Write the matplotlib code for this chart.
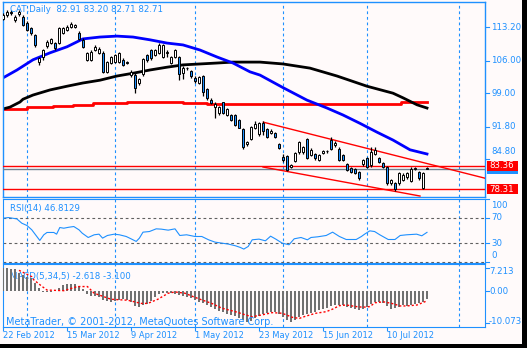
import matplotlib
matplotlib.use('Agg')
import matplotlib.pyplot as plt
from matplotlib.patches import Rectangle

W, H = 527, 348
BG = '#FFFAFA'
FG = '#1E90FF'
BULL = '#FFFFFF'
BEAR = '#1E90FF'

# ---------------- data ----------------
date_labels = ['22 Feb 2012', '15 Mar 2012', '9 Apr 2012', '1 May 2012',
               '23 May 2012', '15 Jun 2012', '10 Jul 2012']
date_index = [0, 16, 32, 48, 64, 80, 96]
grid_index = [6, 28, 48, 70, 91, 114]

opens = [115.0, 115.8, 116.6, 114.7, 116.0, 115.4, 114.2, 113.0, 111.5, 105.7,
         106.8, 109.2, 109.8, 109.8, 109.8, 112.0, 112.6, 113.3, 113.3, 112.0,
         110.5, 106.2, 106.2, 108.3, 107.7, 107.7, 103.6, 105.5, 105.7, 105.7,
         106.2, 105.8, 102.9, 102.9, 101.2, 103.1, 107.2, 108.2, 107.2, 107.7,
         106.9, 107.7, 105.5, 106.8, 106.8, 103.4, 104.4, 103.8, 102.3, 101.2,
         102.6, 99.8, 97.6, 96.1, 94.7, 97.0, 94.4, 94.3, 94.4, 93.2,
         91.2, 88.0, 89.2, 91.5, 90.1, 92.6, 91.3, 90.4, 90.4, 88.0,
         85.2, 85.5, 83.1, 84.4, 86.3, 86.3, 89.1, 85.7, 85.9, 84.6,
         86.1, 86.5, 88.9, 87.8, 87.0, 85.7, 83.7, 82.9, 82.6, 82.0,
         83.7, 85.0, 83.5, 85.9, 85.0, 83.9, 83.1, 79.6, 79.6, 79.6,
         80.3, 80.9, 80.1, 82.7, 82.0, 78.6, 82.91]
highs = [116.2, 117.0, 117.0, 115.8, 116.9, 115.8, 114.5, 113.3, 111.7, 106.9,
         108.6, 110.4, 111.0, 110.0, 113.3, 113.3, 113.6, 114.3, 114.0, 112.3,
         110.8, 107.9, 108.2, 109.4, 108.9, 108.0, 106.0, 107.1, 107.5, 107.9,
         106.6, 106.0, 104.0, 103.3, 102.3, 106.5, 107.5, 108.5, 108.6, 109.8,
         109.7, 108.2, 107.0, 108.6, 107.1, 104.9, 104.7, 104.1, 102.6, 102.8,
         103.0, 100.1, 97.9, 97.0, 96.3, 97.2, 95.8, 94.6, 94.6, 93.5,
         91.4, 88.8, 92.0, 92.9, 92.8, 92.9, 91.6, 91.2, 90.7, 88.3,
         85.8, 85.7, 83.8, 86.4, 88.8, 87.7, 89.3, 87.1, 86.2, 86.0,
         86.8, 86.8, 89.5, 88.6, 87.3, 86.0, 84.0, 83.2, 82.9, 82.3,
         84.9, 85.3, 87.4, 87.4, 85.3, 84.2, 83.4, 80.6, 79.9, 82.1,
         81.7, 82.1, 83.0, 83.0, 82.3, 82.1, 83.20]
lows = [114.7, 115.5, 115.9, 114.4, 115.7, 113.5, 112.4, 111.6, 109.0, 105.1,
        106.2, 108.7, 109.5, 108.4, 109.5, 111.8, 112.3, 113.0, 113.1, 110.5,
        108.8, 105.9, 106.0, 108.0, 107.4, 103.3, 103.3, 105.2, 105.4, 105.4,
        104.8, 105.2, 102.4, 99.0, 100.8, 102.7, 105.8, 106.2, 107.0, 107.4,
        106.6, 106.8, 105.2, 106.5, 101.8, 102.0, 103.9, 102.3, 101.3, 100.9,
        98.4, 97.6, 96.6, 93.6, 94.4, 94.5, 94.1, 93.0, 92.0, 91.4,
        87.0, 87.6, 88.9, 91.2, 89.8, 90.0, 89.3, 90.1, 89.3, 86.9,
        84.2, 82.2, 82.8, 84.1, 86.0, 86.0, 84.8, 85.4, 84.7, 84.3,
        85.8, 86.2, 86.7, 87.5, 84.3, 84.3, 82.2, 81.7, 81.5, 80.4,
        83.4, 82.8, 83.2, 85.6, 83.9, 82.8, 79.3, 79.3, 77.9, 79.3,
        80.0, 80.6, 79.8, 82.4, 80.4, 78.3, 82.71]
closes = [115.8, 116.6, 116.2, 115.5, 116.6, 113.7, 112.6, 112.0, 109.4, 106.6,
          108.3, 110.0, 110.7, 108.7, 113.0, 113.0, 113.3, 113.9, 113.7, 110.7,
          109.0, 107.6, 107.9, 109.0, 108.5, 103.6, 105.7, 106.8, 107.2, 107.6,
          105.1, 105.6, 103.6, 100.1, 102.0, 106.3, 106.2, 106.5, 108.3, 109.4,
          109.4, 107.7, 106.8, 108.3, 103.1, 104.4, 104.4, 102.6, 101.6, 102.5,
          99.2, 97.9, 96.9, 96.7, 96.0, 94.8, 95.5, 93.3, 92.2, 91.6,
          87.4, 88.5, 91.7, 92.3, 92.5, 90.8, 89.6, 90.9, 89.6, 87.2,
          84.6, 82.5, 83.5, 86.1, 88.5, 87.4, 85.0, 86.8, 85.0, 85.7,
          86.5, 86.5, 87.0, 88.3, 84.6, 84.6, 82.5, 82.0, 81.8, 80.7,
          84.6, 83.1, 86.3, 86.8, 84.2, 83.1, 79.6, 80.3, 78.3, 81.8,
          81.4, 81.8, 82.7, 82.7, 80.7, 81.8, 82.71]

# moving averages (read at sample bars)
ma_blue_idx = [0, 3.5, 7.5, 11.75, 16, 20, 24.25, 28.5, 32.5, 36.75, 41, 45, 49.25,
               53.5, 57.5, 61.75, 64.25, 70, 76, 81, 85, 89.25, 93.5, 97.5, 101.75, 106]
ma_blue_val = [102.3, 104.0, 106.2, 107.7, 109.0, 110.7, 111.1, 111.3, 111.1, 110.5,
               109.8, 109.4, 108.3, 106.8, 105.5, 103.6, 102.9, 100.2, 97.5, 95.8,
               94.3, 92.5, 90.6, 88.9, 86.8, 85.9]
ma_black_idx = [0, 1.75, 4.25, 5, 7.5, 11.75, 16, 20, 24.25, 28.5, 32.5, 36.75, 41,
                45, 49.25, 53.5, 57.5, 64.25, 70, 76.75, 83.5, 91, 97.5, 100, 103.5, 106]
ma_black_val = [95.6, 96.0, 97.1, 97.7, 98.6, 99.7, 100.5, 101.2, 101.8, 102.7, 103.3,
                104.0, 104.6, 105.1, 105.3, 105.5, 105.7, 105.7, 105.3, 104.4, 102.7,
                100.5, 99.0, 98.0, 96.5, 95.8]
ma_red_idx = [0, 6, 12.5, 17.5, 22.5, 31, 45, 51, 64.25, 99, 99.5, 106]
ma_red_val = [95.7, 96.0, 96.2, 96.45, 96.9, 97.1, 96.9, 96.7, 96.65, 96.65, 97.0, 97.0]

level_high = 83.36
level_low = 78.31
bid = 82.71
trend_upper = ([65.1, 120.5], [92.75, 80.68])
trend_lower = ([65.0, 104.25], [83.09, 76.84])

price_ticks = [113.20, 106.00, 99.00, 91.80, 84.80]

rsi_idx = [0, 1.35, 3.45, 4.7, 6, 7.2, 9.2, 10.2, 11, 12.7, 13.4, 14.2, 15.2, 16.5, 17.7,
           19, 19.8, 21.3, 22.8, 24, 24.9, 26.1, 27.8, 29.1, 30.8, 32, 33.3, 34.1, 35,
           36.6, 38.3, 39.6, 41.3, 43, 44.2, 45.9, 48, 49.7, 51.4, 53, 54.7, 56.4, 58.1,
           59.3, 60.2, 61.3, 62.3, 64, 65.6, 66.9, 68.2, 69.8, 71.5, 72.8, 74.5, 76.1,
           77, 78.7, 80.8, 82.4, 84.1, 85.8, 88.3, 89.6, 90.4, 91.7, 92.9, 94.2, 96.3,
           98, 99.3, 100.9, 103.4, 104.7, 106]
rsi_val = [69.3, 70.4, 68.3, 61.4, 57.7, 50.8, 33.9, 42.9, 46.6, 46.6, 43.9, 54.5, 53.4,
           55.0, 56.1, 50.8, 45.5, 38.6, 42.9, 43.9, 37.6, 41.8, 43.9, 42.9, 40.2, 36.5,
           32.3, 37.6, 47.1, 48.1, 52.4, 51.9, 50.3, 52.4, 41.8, 42.9, 40.2, 40.2, 34.9,
           31.2, 29.6, 28.0, 25.4, 22.8, 20.1, 24.3, 34.9, 36.0, 33.3, 40.7, 36.0, 29.6,
           27.0, 36.5, 38.6, 34.9, 38.6, 39.7, 41.8, 47.1, 40.2, 35.4, 35.4, 40.2, 43.9,
           49.2, 48.1, 42.9, 35.4, 35.4, 41.8, 42.9, 43.9, 41.3, 46.8]

macd_hist = [7.2, 7.1, 6.9, 6.8, 5.6, 5.0, 4.5, 4.0, 2.4, 0.8,
             -0.4, -0.4, -0.3, -0.1, 0.8, 1.8, 2.1, 2.2, 2.1, 1.6,
             0.6, -1.1, -1.5, -1.7, -1.9, -2.7, -3.1, -3.4, -3.3, -2.7,
             -2.6, -2.9, -3.4, -4.6, -5.0, -4.4, -4.0, -3.0, -1.9, -0.9,
             -0.5, -0.5, -0.6, -1.0, -1.3, -1.7, -1.9, -2.3, -2.7, -3.4,
             -3.9, -4.4, -4.9, -5.7, -6.2, -6.7, -7.1, -7.4, -8.0, -8.5,
             -9.0, -9.8, -9.3, -8.6, -7.8, -7.3, -6.9, -6.7, -6.6, -7.2,
             -8.3, -9.1, -9.7, -9.0, -8.3, -7.6, -7.1, -6.8, -6.6, -6.0,
             -5.7, -5.5, -4.6, -4.4, -4.3, -4.4, -4.9, -5.5, -5.7, -5.9,
             -5.6, -4.9, -4.0, -3.4, -3.4, -3.8, -4.8, -5.6, -5.4, -5.0,
             -4.5, -4.7, -4.5, -4.1, -3.9, -3.5, -2.618]
sig_idx = [4, 7.2, 7.7, 9.8, 11, 15.2, 18.6, 21.1, 22.8, 27, 31.2, 34.5, 36.2, 38.7,
           41.3, 43, 45.5, 47.6, 49.7, 52.2, 54.7, 58.1, 60.6, 62.3, 64.8, 67.3, 69.8,
           72.4, 74.1, 75.7, 78.2, 80.8, 82.4, 84.1, 85.8, 88.3, 90, 91.7, 93, 95.1,
           97.2, 99.3, 100.9, 103.5, 106]
sig_val = [6.5, 4.5, 3.5, 1.4, 0.3, 0.1, 1.4, 1.4, -0.7, -2.6, -2.9, -3.9, -3.9, -2.6,
           -0.7, -0.3, -0.7, -1.8, -2.8, -3.9, -5.4, -6.5, -7.5, -8.1, -7.5, -6.8, -7.0,
           -8.3, -8.6, -7.9, -7.0, -6.5, -5.7, -4.6, -4.4, -4.9, -5.1, -4.9, -3.7, -3.4,
           -3.9, -4.7, -4.7, -4.4, -3.1]

title_text = 'CAT,Daily  82.91 83.20 82.71 82.71'
rsi_text = 'RSI(14) 46.8129'
macd_text = 'MACD(5,34,5) -2.618 -3.100'
copyright_text = 'MetaTrader, \u00a9 2001-2012, MetaQuotes Software Corp.'

# ---------------- layout helpers ----------------
fig = plt.figure(figsize=(W / 100, H / 100), dpi=100, facecolor=BG)


def px_axes(x0, y0, x1, y1):
    return fig.add_axes([x0 / W, 1 - y1 / H, (x1 - x0) / W, (y1 - y0) / H])


def fig_text(x, y, s, **kw):
    fig.text(x / W, 1 - y / H, s, **kw)


def tick_mark(y):
    fig.add_artist(plt.Line2D([486 / W, 489 / W], [1 - y / H, 1 - y / H], color=FG, lw=0.8))


XL, XR = 3, 485
xlim = (0, (XR - XL) / 4.0)
FS = 6.2
DASH = (0, (2.5, 2.5))

# ---------------- main price panel ----------------
ax = px_axes(XL, 2, XR, 197)
ax.set_facecolor(BG)
ax.set_xlim(*xlim)
P_TOP, P_BOT = 118.65, 76.63
ax.set_ylim(P_BOT, P_TOP)
for g in grid_index:
    ax.axvline(g, color=FG, lw=0.8, ls=DASH, zorder=1)

ax.plot(ma_red_idx, ma_red_val, color='red', lw=2, zorder=2, drawstyle='steps-post')
ax.plot(ma_black_idx, ma_black_val, color='black', lw=2, zorder=2)
ax.plot(ma_blue_idx, ma_blue_val, color='#0000FF', lw=2, zorder=2)

ax.axhline(level_high, color='red', lw=1, zorder=3)
ax.axhline(level_low, color='red', lw=1, zorder=3)
ax.axhline(bid, color='#708090', lw=1, zorder=3)
ax.plot(*trend_upper, color='red', lw=1, zorder=3)
ax.plot(*trend_lower, color='red', lw=1, zorder=3)

n = len(opens)
idx = list(range(n))
ax.vlines(idx, lows, highs, color='black', lw=0.9, zorder=4)
bot = [min(o, c) for o, c in zip(opens, closes)]
hgt = [max(abs(c - o), 0.12) for o, c in zip(opens, closes)]
cols = [BULL if c >= o else BEAR for o, c in zip(opens, closes)]
ax.bar(idx, hgt, bottom=bot, width=0.6, color=cols, edgecolor='black', lw=0.7, zorder=5)

ax.text(7 / (XR - XL), 1 - 8 / 195, title_text, transform=ax.transAxes, color=FG,
        fontsize=FS, va='center', ha='left', zorder=6)

for s in ax.spines.values():
    s.set_color(FG)
    s.set_linewidth(1)
ax.set_xticks([])
ax.set_yticks([])


def py(p):
    return 2 + (P_TOP - p) / (P_TOP - P_BOT) * 195


for p in price_ticks:
    y = py(p)
    tick_mark(y)
    yl = y - 8 if abs(p - 84.80) < 0.01 else y
    fig_text(491, yl, '%.2f' % p, color=FG, fontsize=FS, va='center', ha='left')


def price_box(p, color, txt=None):
    y = py(p)
    fig.add_artist(Rectangle((487 / W, 1 - (y + 5) / H), 31 / W, 10 / H,
                             transform=fig.transFigure, facecolor=color, edgecolor='none', zorder=10))
    if txt:
        fig_text(489, y, txt, color='white', fontsize=FS, va='center', ha='left', zorder=11)


price_box(bid, FG)
price_box(level_high, 'red', '%.2f' % level_high)
price_box(level_low, 'red', '%.2f' % level_low)

# ---------------- RSI panel ----------------
ar = px_axes(XL, 199, XR, 263)
ar.set_facecolor(BG)
ar.set_xlim(*xlim)
ar.set_ylim(-2.1, 100)
for g in grid_index:
    ar.axvline(g, color=FG, lw=0.8, ls=DASH, zorder=1)
for lv in (70, 30, 0):
    ar.axhline(lv, color='#606060', lw=0.8, ls=DASH, zorder=1)
ar.plot(rsi_idx, rsi_val, color=FG, lw=0.8, zorder=3)
ar.text(7 / (XR - XL), 1 - 9 / 64, rsi_text, transform=ar.transAxes, color=FG,
        fontsize=FS, va='center', ha='left')
for s in ar.spines.values():
    s.set_color(FG)
ar.set_xticks([])
ar.set_yticks([])
for lbl, y in (('100', 205), ('70', 218), ('30', 243), ('0', 255)):
    fig_text(491, y, lbl, color=FG, fontsize=FS, va='center', ha='left')
for y in (199, 218, 243, 261.7):
    tick_mark(y)

# ---------------- MACD panel ----------------
am = px_axes(XL, 264, XR, 327)
am.set_facecolor(BG)
am.set_xlim(*xlim)
am.set_ylim(-11.32, 8.49)
for g in grid_index:
    am.axvline(g, color=FG, lw=0.8, ls=DASH, zorder=1)
am.text(7 / (XR - XL), 1 - 12 / 63, macd_text, transform=am.transAxes, color=FG,
        fontsize=FS, va='center', ha='left', zorder=2)
am.bar(idx, macd_hist, width=0.6, color='#707070', edgecolor='none', zorder=3)
am.plot(sig_idx, sig_val, color='red', lw=1, ls=(0, (1.5, 1.5)), zorder=4)
am.text(3 / (XR - XL), 1 - 58 / 63, copyright_text, transform=am.transAxes, color=FG,
        fontsize=7.0, va='center', ha='left', zorder=5)
for s in am.spines.values():
    s.set_color(FG)
am.set_yticks([])
am.set_xticks(date_index)
am.set_xticklabels([])
am.tick_params(axis='x', direction='out', length=3, color=FG, width=0.8)
for lbl, y in (('7.213', 272), ('0.00', 291), ('-10.073', 321)):
    fig_text(489, y, lbl, color=FG, fontsize=FS, va='center', ha='left')
for y in (268, 291, 323):
    tick_mark(y)
for di, dl in zip(date_index, date_labels):
    fig_text(XL + 4 * di, 336, dl, color=FG, fontsize=6.0, va='center', ha='left')

# black outer frame
fig.add_artist(Rectangle((522 / W, 0), 5 / W, 1, transform=fig.transFigure,
                         facecolor='black', edgecolor='none', zorder=20))
fig.add_artist(Rectangle((0, 0), 1, 4 / H, transform=fig.transFigure,
                         facecolor='black', edgecolor='none', zorder=20))

fig.savefig('out.png', dpi=100, facecolor=BG)
